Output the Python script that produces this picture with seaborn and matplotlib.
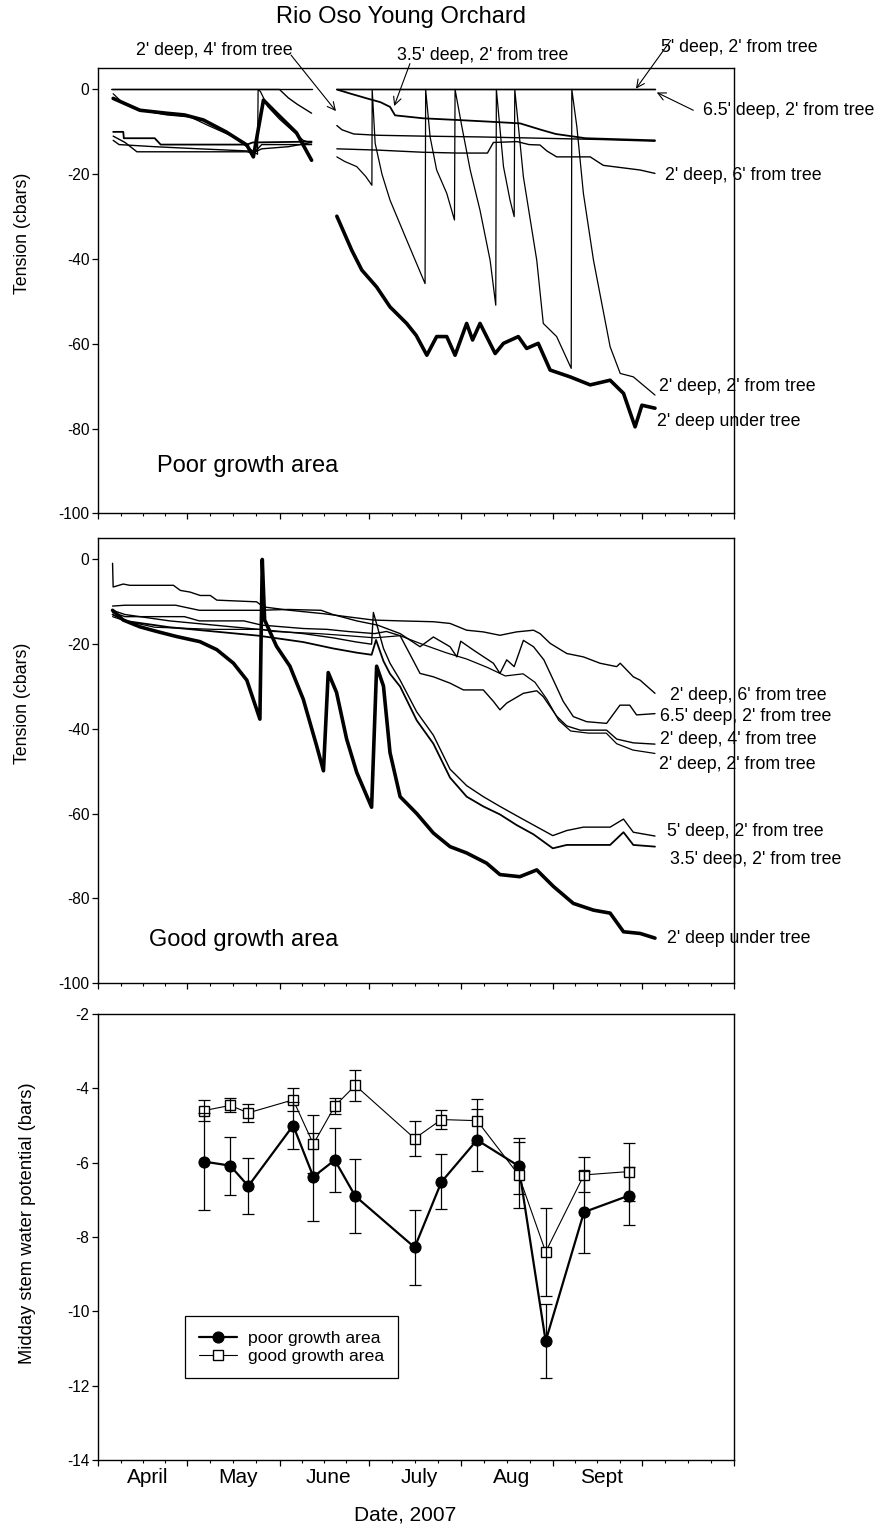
import numpy as np
import pandas as pd
import matplotlib
matplotlib.use("Agg")
import matplotlib.pyplot as plt
from matplotlib.ticker import FixedLocator, NullFormatter
import seaborn as sns

nan = np.nan

# day of year 2007; nan splits the logger record where data are missing
# ---- poor growth area, soil tension (cbars)
poor_under_day = [96, 105, 114, 120, 126.4, 134, 141, 143.2, 146.6, 151, 157.7, 162.8, nan,
                  171.3, 176.3, 179.7, 184.7, 189.2, 194.8, 198, 201.6, 204.9, 208.3, 211.1, 215,
                  217, 219.5, 224.6, 227.4, 232.4, 235.2, 239.1, 243.1, 249.8, 256.6, 263.3,
                  267.8, 271.7, 274, 278.4]
poor_under_val = [-2.1, -4.9, -5.6, -6, -7.2, -10, -13.1, -15.9, -2.5, -5.6, -10.2, -16.7, nan,
                  -29.9, -37.9, -42.6, -46.6, -51.3, -55.2, -58, -62.7, -58.3, -58.3, -62.7, -55.2,
                  -59.1, -55.2, -62.3, -59.9, -58.3, -61.1, -59.9, -66.2, -67.8, -69.7, -68.6,
                  -71.7, -79.6, -74.5, -75.2]

poor_2x2_day = [96, 99, 106, 114, 122, 128, 136, 142, 144.6, 144.8, 145.6, 148, 152, 156, 160, 162.8, nan,
                171.3, 174, 178, 181, 183.1, 183.2, 184.2, 186.5, 189.2, 194.8, 201,
                201.2, 202.7, 204.9, 208.3, 210.9, 211.1, 213.4, 216.2, 219.5, 222.9, 224.8,
                225.0, 227.4, 229.6, 231.0, 231.2, 234.1, 238.6, 240.8, 245.3, 250.2,
                250.4, 252.1, 254.3, 257.7, 263.3, 266.7, 271.1, 278.4]
poor_2x2_val = [-1, -3, -5, -6, -6.5, -8.5, -11, -14, -15.3, 0, -0.5, -4, -7, -9.5, -12, -12.6, nan,
                -15.9, -17, -18.2, -20.5, -22.6, 0, -12.7, -20, -26.1, -35.5, -45.8,
                0, -11.2, -19, -24.5, -30.8, 0, -8.8, -19, -28.5, -40.3, -50.9,
                0, -18.2, -26.1, -30, 0, -20.6, -40.3, -55.2, -58.3, -65.8,
                0, -8.8, -24.5, -40.3, -60.7, -67, -67.8, -72.1]

poor_2x4_day = [96, 100, 104, 120, 141, 143, 146, 155, 162.8, nan,
                171.3, 173, 177, 185, 200, 220, 240, 260, 278.4]
poor_2x4_val = [-11, -12.5, -14.7, -14.7, -14.7, -15, -14, -13.5, -12.5, nan,
                -8.5, -9.5, -10.5, -10.8, -11, -11.2, -11.5, -11.8, -12.2]

poor_2x6_day = [96, 98, 110, 125, 141, 144, 146, 162.8, nan,
                171.3, 185, 200, 212, 222, 224, 232, 236, 239.7, 242, 245.3, 256.6, 261, 273.4, 278.4]
poor_2x6_val = [-12, -13, -13.5, -14, -14.5, -14.5, -13, -13, nan,
                -14, -14.3, -14.8, -15, -15, -12.5, -12.3, -13, -13.1, -14.5, -15.9, -15.9, -17.9, -19, -19.8]

poor_35_day = [96, 99.4, 99.6, 110, 112, 141, 143, 162.8, nan,
               171.3, 176, 181.4, 186, 189.2, 190.9, 200.4, 212, 222.9, 233, 240, 245, 255, 278.4]
poor_35_val = [-10, -10, -11.5, -11.5, -13, -13, -12.5, -12.3, nan,
               0, -1, -2.1, -3, -4.1, -6.1, -6.8, -7.2, -7.6, -8, -9.5, -10.5, -11.5, -12]

poor_5_day = [95.5, 162.8, nan, 171.3, 278.4]
poor_5_val = [0, 0, nan, 0, 0]

poor_65_day = [95.5, 152, 155, 158, 162.8, nan, 171.3, 278.4]
poor_65_val = [0, 0, -2, -3.5, -5.6, nan, 0, 0]

# ---- good growth area, soil tension (cbars)
good_under_day = [95.8, 99.4, 105, 110.7, 117.4, 125.2, 130.9, 136.5, 141, 145.4, 146.2, 147, 151, 155.5,
                  160, 164.5, 166.8, 168.4, 171.2, 174.6, 178, 183, 184.7, 187, 189.2, 192.6, 198.2,
                  203.8, 209.4, 215, 221.7, 226.2, 232.9, 238.6, 244.2, 250.9, 257.7, 263.3, 267.8,
                  273.4, 278.4]
good_under_val = [-12, -14.3, -15.9, -17, -18.2, -19.4, -21.3, -24.5, -28.5, -37.7, 0, -14.3, -20.5, -25.2,
                  -33, -44, -49.9, -26.7, -31.4, -42.4, -50.3, -58.5, -25.2, -29.9, -45.6, -56, -60,
                  -64.6, -67.8, -69.3, -71.7, -74.4, -74.9, -73.3, -77.2, -81.2, -82.8, -83.5, -87.9,
                  -88.3, -89.4]

good_2x6_day = [95.8, 96, 99.4, 101.6, 116.3, 118.6, 121.9, 125.3, 128.7, 130.9, 144.3, 146.6, 155.5,
                166.8, 175.7, 183.6, 192.6, 203.8, 209.4, 215, 220.6, 226.2, 231.8, 237.5, 239.7,
                243.1, 248.7, 254.3, 259.9, 265.5, 266.7, 271.1, 273.4, 278.4]
good_2x6_val = [-0.9, -6.5, -5.8, -6.1, -6.1, -7.3, -7.7, -8.5, -8.5, -9.6, -10, -11.2, -12,
                -12.8, -13.6, -14.3, -14.5, -14.7, -15.1, -16.7, -17.1, -17.9, -17.1, -16.7, -17.5,
                -19.8, -22.2, -23, -24.5, -25.3, -24.5, -27.7, -28.5, -31.6]

good_65_day = [95.8, 100, 117, 125, 145, 155, 166, 170, 178, 185, 192.6, 199.3, 203.8, 209.4, 211.7,
               213, 217.3, 224, 226.2, 228.5, 231, 234.1, 237.5, 241, 244.2, 247.5, 250.9, 255.4,
               262.1, 266.6, 269.9, 272.2, 278.4]
good_65_val = [-11, -10.8, -10.8, -12, -12, -11.8, -12, -13, -14.5, -15.5, -17.5, -20.6, -18.3, -20.6, -23,
               -19.3, -21.4, -24.5, -26.9, -23.7, -25.3, -19.1, -20.6, -23.7, -28.5, -33.5, -37.1, -38.3,
               -38.7, -34.4, -34.4, -36.7, -36.4]

good_2x4_day = [95.8, 100, 120, 125, 140, 146, 160, 168, 175, 184, 188, 192.6, 196, 199.3, 203.8, 209.4,
                213.9, 220.6, 224, 226.2, 228.5, 234.1, 238.6, 240.8, 245.3, 248.7, 253.2, 262.1,
                265.5, 271.1, 278.4]
good_2x4_val = [-12.5, -13.5, -13.5, -14.5, -14.5, -15.5, -16.3, -16.5, -17, -17.5, -17, -18, -22.5, -26.9,
                -27.7, -29.2, -30.8, -30.8, -33.5, -35.5, -33.9, -31.6, -31, -32.4, -37, -39.3, -40.3,
                -40.3, -42.4, -43.3, -43.6]

good_2x2_day = [95.8, 100, 110, 130, 146, 150, 165, 175, 184, 192.6, 200, 208, 215, 222, 228, 234, 238,
                242, 246, 250, 256, 262, 265.5, 271, 278.4]
good_2x2_val = [-13.5, -14.5, -16, -16.5, -16.5, -17, -17.5, -18, -18.5, -18, -20, -22, -23.5, -25.5,
                -27.5, -27, -29, -33, -38, -40.5, -41, -41, -43.5, -45, -45.8]

good_5_day = [95.8, 100, 115, 130, 145, 160, 170, 178, 183, 183.6, 185, 187, 189.2, 192.6, 198.2, 203.8,
              209.4, 215, 220.6, 226.2, 231.8, 237.5, 244, 248.7, 254.3, 263.3, 267.8, 271.1, 278.4]
good_5_val = [-12, -13, -14.5, -15.5, -16.5, -17.5, -18.5, -19.5, -20, -12.5, -16, -21, -24.5, -28.5,
              -36, -41.5, -49.5, -53.4, -56, -58.3, -60.5, -62.7, -65.2, -64, -63.2, -63.2, -61.3,
              -64.4, -65.3]

good_35_day = [95.8, 100, 115, 130, 145, 160, 170, 178, 183, 184.5, 187, 189.2, 192.6, 198.2, 203.8,
               209.4, 215, 220.6, 226.2, 231.8, 237.5, 244, 248.7, 254.3, 263.3, 267.8, 271.1, 278.4]
good_35_val = [-13, -14.5, -16, -17, -18, -19.5, -21, -22, -22.5, -19, -24, -27, -30, -38, -43.5,
               -51.5, -56, -58.3, -60.2, -62.7, -64.9, -68.2, -67.4, -67.4, -67.4, -64.4, -67.4, -67.8]

# ---- midday stem water potential (bars)
swp_day = [126.5, 135.4, 141.5, 156.6, 163.4, 170.6, 177.5, 197.5, 206.5, 218.5, 232.5, 241.6, 254.5, 269.5]
poor_swp = [-5.97, -6.08, -6.63, -5.0, -6.38, -5.93, -6.90, -8.28, -6.52, -5.39, -6.09, -10.8, -7.33, -6.89]
poor_err = [1.30, 0.78, 0.76, 0.63, 1.19, 0.86, 0.99, 1.0, 0.74, 0.84, 0.75, 1.0, 1.11, 0.78]
good_swp = [-4.60, -4.46, -4.66, -4.31, -5.50, -4.48, -3.92, -5.35, -4.84, -4.87, -6.33, -8.40, -6.33, -6.24]
good_err = [0.28, 0.19, 0.25, 0.31, 0.77, 0.22, 0.41, 0.48, 0.25, 0.59, 0.89, 1.18, 0.47, 0.78]

month_start = [91, 121, 152, 182, 213, 244, 274, 305]
month_names = ["April", "May", "June", "July", "Aug", "Sept"]


def to_frame(series):
    rows = []
    for name, (days, vals) in series.items():
        seg = 0
        for d, v in zip(days, vals):
            if np.isnan(d):
                seg += 1
                continue
            rows.append((name, f"{name}-{seg}", d, v))
    return pd.DataFrame(rows, columns=["sensor", "unit", "day", "tension"])


poor_df = to_frame({
    "under": (poor_under_day, poor_under_val),
    "2x2": (poor_2x2_day, poor_2x2_val),
    "2x4": (poor_2x4_day, poor_2x4_val),
    "2x6": (poor_2x6_day, poor_2x6_val),
    "3.5": (poor_35_day, poor_35_val),
    "5": (poor_5_day, poor_5_val),
    "6.5": (poor_65_day, poor_65_val),
})
good_df = to_frame({
    "under": (good_under_day, good_under_val),
    "2x2": (good_2x2_day, good_2x2_val),
    "2x4": (good_2x4_day, good_2x4_val),
    "2x6": (good_2x6_day, good_2x6_val),
    "3.5": (good_35_day, good_35_val),
    "5": (good_5_day, good_5_val),
    "6.5": (good_65_day, good_65_val),
})

sns.set_theme(style="ticks")
plt.rcParams["font.family"] = ["Liberation Sans", "DejaVu Sans"]
plt.rcParams["axes.unicode_minus"] = False
plt.rcParams["axes.linewidth"] = 1.0
plt.rcParams["axes.edgecolor"] = "black"
for key in ("text.color", "axes.labelcolor", "xtick.color", "ytick.color"):
    plt.rcParams[key] = "black"

W, H = 878, 1529
fig = plt.figure(figsize=(W / 100, H / 100), dpi=100)
LEFT, RIGHT = 98.3, 734.0


def add_axes(top, bottom):
    return fig.add_axes([LEFT / W, 1 - bottom / H, (RIGHT - LEFT) / W, (bottom - top) / H])


ax1 = add_axes(68.3, 513.3)
ax2 = add_axes(538.3, 983.0)
ax3 = add_axes(1014.0, 1460.0)

minor_days = []
for a, b in zip(month_start[:-1], month_start[1:]):
    minor_days += [a + (b - a) * k / 4 for k in (1, 2, 3)]

for ax in (ax1, ax2, ax3):
    ax.set_xlim(month_start[0], month_start[-1])
    ax.xaxis.set_major_locator(FixedLocator(month_start))
    ax.xaxis.set_minor_locator(FixedLocator(minor_days))
    ax.xaxis.set_major_formatter(NullFormatter())
    ax.tick_params(axis="both", which="major", direction="out", length=4.5, width=0.9,
                   labelsize=11.2, colors="black", pad=2)
    ax.tick_params(axis="x", which="minor", direction="out", length=2, width=0.8, colors="black")
    for s in ax.spines.values():
        s.set_visible(True)
        s.set_color("black")

widths = {"under": 2.6, "2x2": 0.9, "2x4": 1.0, "2x6": 1.0, "3.5": 1.3, "5": 1.0, "6.5": 1.0}
for ax, df in ((ax1, poor_df), (ax2, good_df)):
    for name, sub in df.groupby("sensor", sort=False):
        sns.lineplot(data=sub, x="day", y="tension", units="unit", estimator=None, sort=False,
                     color="black", lw=widths[name], ax=ax, legend=False)
    ax.set_ylim(-100, 5)
    ax.set_yticks([0, -20, -40, -60, -80, -100])
    ax.set_xlabel("")
    ax.set_ylabel("")
    ax.text(-0.119, 0.63, "Tension (cbars)", transform=ax.transAxes, rotation=90,
            ha="center", va="center", fontsize=12.8)

lab = dict(fontsize=12.8, va="center", ha="left", annotation_clip=False)
arrow = dict(arrowstyle="->", lw=0.8, color="black", mutation_scale=14, shrinkA=0, shrinkB=0)

# poor growth area labels
ax1.annotate("2' deep, 4' from tree", xy=(103.7, 9.2), **lab)
ax1.annotate("", xy=(171, -5.1), xytext=(155.9, 8.1), arrowprops=arrow, annotation_clip=False)
ax1.annotate("3.5' deep, 2' from tree", xy=(191.4, 8.0), **lab)
ax1.annotate("", xy=(190.6, -3.9), xytext=(195.9, 6.1), arrowprops=arrow, annotation_clip=False)
ax1.annotate("5' deep, 2' from tree", xy=(280.5, 10.0), **lab)
ax1.annotate("", xy=(272, 0.2), xytext=(283.7, 11.6), arrowprops=arrow, annotation_clip=False)
ax1.annotate("6.5' deep, 2' from tree", xy=(294.4, -4.9), **lab)
ax1.annotate("", xy=(279, -0.7), xytext=(291.3, -4.9), arrowprops=arrow, annotation_clip=False)
ax1.annotate("2' deep, 6' from tree", xy=(281.8, -20.2), **lab)
ax1.annotate("2' deep, 2' from tree", xy=(279.6, -70.1), **lab)
ax1.annotate("2' deep under tree", xy=(279.2, -78.4), **lab)
ax1.text(171.8, -88.8, "Poor growth area", ha="right", va="center", fontsize=17)

# good growth area labels
ax2.annotate("2' deep, 6' from tree", xy=(283.3, -32.0), **lab)
ax2.annotate("6.5' deep, 2' from tree", xy=(280.1, -37.0), **lab)
ax2.annotate("2' deep, 4' from tree", xy=(280.1, -42.5), **lab)
ax2.annotate("2' deep, 2' from tree", xy=(279.7, -48.5), **lab)
ax2.annotate("5' deep, 2' from tree", xy=(282.4, -64.2), **lab)
ax2.annotate("3.5' deep, 2' from tree", xy=(283.3, -70.9), **lab)
ax2.annotate("2' deep under tree", xy=(282.4, -89.6), **lab)
ax2.text(171.8, -89.8, "Good growth area", ha="right", va="center", fontsize=17)

# stem water potential panel
sns.lineplot(x=swp_day, y=poor_swp, ax=ax3, color="black", lw=1.6, marker="o", markersize=8,
             markeredgecolor="black", markerfacecolor="black", label="poor growth area", zorder=3)
sns.lineplot(x=swp_day, y=good_swp, ax=ax3, color="black", lw=0.8, marker="s", markersize=6.8,
             markeredgecolor="black", markerfacecolor="white", markeredgewidth=1.0,
             label="good growth area", zorder=3)
ax3.errorbar(swp_day, poor_swp, yerr=poor_err, fmt="none", ecolor="black", elinewidth=0.9,
             capsize=4.6, capthick=0.9, zorder=4)
ax3.errorbar(swp_day, good_swp, yerr=good_err, fmt="none", ecolor="black", elinewidth=0.9,
             capsize=4.6, capthick=0.9, zorder=4)
ax3.set_ylim(-14, -2)
ax3.set_yticks(range(-14, -1, 2))
ax3.set_xlabel("")
ax3.set_ylabel("")
ax3.text(-0.112, 0.53, "Midday stem water potential (bars)", transform=ax3.transAxes, rotation=90,
         ha="center", va="center", fontsize=13.2)
leg = ax3.legend(loc="lower left", bbox_to_anchor=(0.136, 0.183), borderaxespad=0, frameon=True,
                 fancybox=False, framealpha=1, edgecolor="black", fontsize=12.6, handlelength=2.2,
                 borderpad=0.8, labelspacing=0.2, handletextpad=0.6)
leg.get_frame().set_linewidth(0.9)
for t in leg.get_texts():
    t.set_color("black")

for a, b, name in zip(month_start[:-1], month_start[1:], month_names):
    ax3.text((a + b) / 2 + 1.5, -0.040, name, transform=ax3.get_xaxis_transform(),
             ha="center", va="center", fontsize=15)
ax3.text(0.482, -0.123, "Date, 2007", transform=ax3.transAxes, ha="center", va="center", fontsize=15)

fig.text(401.5 / W, 1 - 16.7 / H, "Rio Oso Young Orchard", ha="center", va="center", fontsize=17)

fig.savefig("out.png", dpi=100)
